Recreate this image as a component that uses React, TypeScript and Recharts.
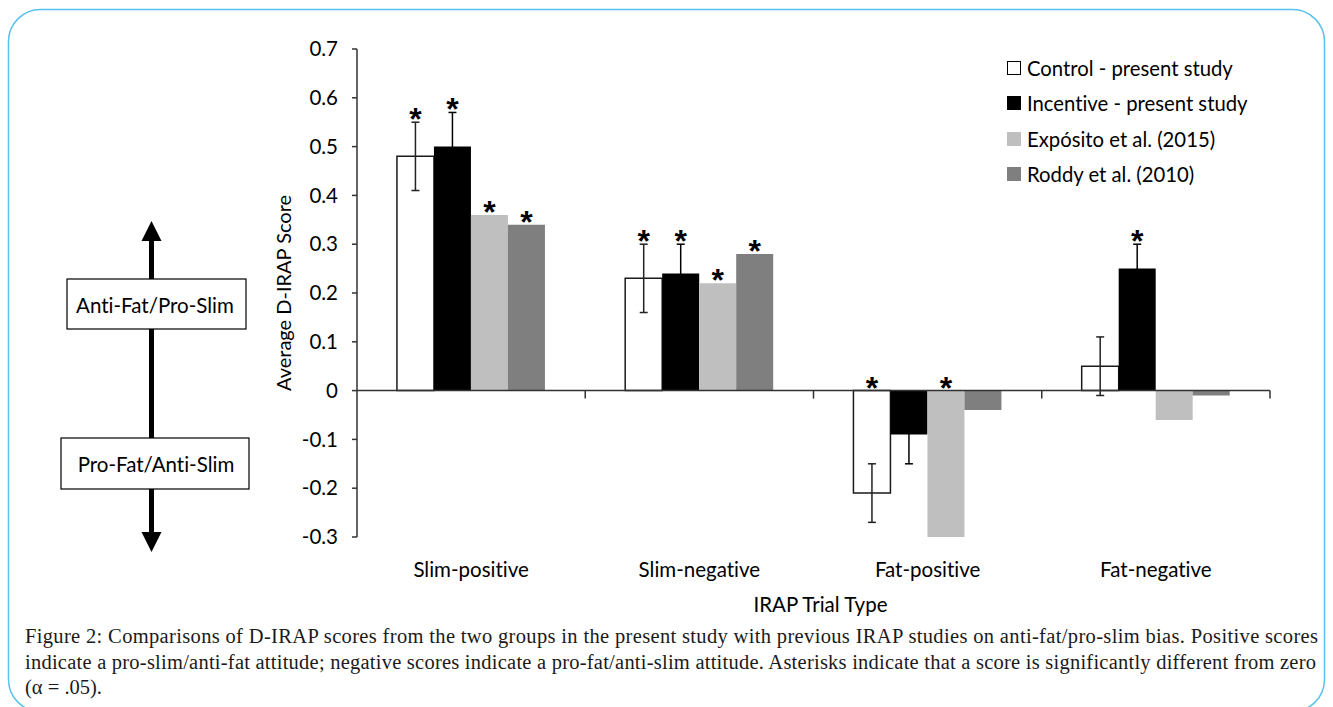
import React from 'react';
import { BarChart, Bar, XAxis, YAxis, ErrorBar, ReferenceLine, Legend, LabelList } from 'recharts';

const categories = ['Slim-positive', 'Slim-negative', 'Fat-positive', 'Fat-negative'];
const controlValues = [0.48, 0.23, -0.21, 0.05];
const controlErrors = [0.07, 0.07, 0.06, 0.06];
const incentiveValues = [0.5, 0.24, -0.09, 0.25];
const incentiveErrors = [0.07, 0.06, 0.06, 0.05];
const expositoValues = [0.36, 0.22, -0.3, -0.06];
const roddyValues = [0.34, 0.28, -0.04, -0.01];
const controlSig = [true, true, true, false];
const incentiveSig = [true, true, false, true];
const expositoSig = [true, true, true, false];
const roddySig = [true, true, false, false];
const yTicks = [-0.3, -0.2, -0.1, 0, 0.1, 0.2, 0.3, 0.4, 0.5, 0.6, 0.7];

const seriesNames = ['Control - present study', 'Incentive - present study', 'Expósito et al. (2015)', 'Roddy et al. (2010)'];

const captionLines = [
  'Figure 2: Comparisons of D-IRAP scores from the two groups in the present study with previous IRAP studies on anti-fat/pro-slim bias. Positive scores',
  'indicate a pro-slim/anti-fat attitude; negative scores indicate a pro-fat/anti-slim attitude. Asterisks indicate that a score is significantly different from zero',
  '(α = .05).',
];

const data = categories.map((c, i) => ({
  category: c,
  control: controlValues[i],
  controlErr: controlErrors[i],
  incentive: incentiveValues[i],
  incentiveErr: incentiveErrors[i],
  exposito: expositoValues[i],
  roddy: roddyValues[i],
}));

const SANS = 'Lato, "Open Sans", sans-serif';
const SERIF = '"Liberation Serif", "DejaVu Serif", serif';
const AXIS = '#333';
const NOLIG: React.CSSProperties = { fontVariantLigatures: 'none', fontFeatureSettings: '"liga" 0' };

const series = [
  { key: 'control', name: seriesNames[0], fill: '#ffffff', stroke: '#1a1a1a', errStroke: '#222', values: controlValues, errs: controlErrors, sig: controlSig, errKey: 'controlErr' },
  { key: 'incentive', name: seriesNames[1], fill: '#000000', stroke: 'none', errStroke: '#000', values: incentiveValues, errs: incentiveErrors, sig: incentiveSig, errKey: 'incentiveErr' },
  { key: 'exposito', name: seriesNames[2], fill: '#bfbfbf', stroke: 'none', errStroke: '#000', values: expositoValues, errs: null as number[] | null, sig: expositoSig, errKey: '' },
  { key: 'roddy', name: seriesNames[3], fill: '#7f7f7f', stroke: 'none', errStroke: '#000', values: roddyValues, errs: null as number[] | null, sig: roddySig, errKey: '' },
];

const makeAsterisk = (values: number[], sig: boolean[], errs: number[] | null) => (props: any) => {
  const vb = props.viewBox && props.viewBox.width !== undefined ? props.viewBox : props;
  const index = props.index;
  if (index === undefined || !sig[index]) return null;
  const x = Number(vb.x);
  const y = Number(vb.y);
  const w = Number(vb.width);
  const h = Number(vb.height);
  const v = values[index];
  const top = Math.min(y, y + h);
  const ppu = Math.abs(h / v);
  const zeroY = v >= 0 ? top + Math.abs(h) : top;
  const err = errs ? errs[index] : 0;
  const peak = Math.max(0, v + err);
  const cy = zeroY - peak * ppu - 10;
  return (
    <text x={x + w / 2} y={cy + 18} textAnchor="middle" fontSize={32} fontWeight="bold" fontFamily='"Liberation Sans", Arial, sans-serif' fill="#000">
      *
    </text>
  );
};

const ZeroLine = (props: any) => {
  const { x1, x2, y1 } = props;
  const n = categories.length;
  const step = (x2 - x1) / n;
  return (
    <g>
      <line x1={x1} x2={x2} y1={y1} y2={y1} stroke={AXIS} strokeWidth={1.5} />
      {categories.map((_, i) => (
        <line key={i} x1={x1 + step * (i + 1)} x2={x1 + step * (i + 1)} y1={y1} y2={y1 + 8} stroke={AXIS} strokeWidth={1.5} />
      ))}
    </g>
  );
};

const LegendContent = () => (
  <div style={{ width: 0, height: 0, position: 'relative' }}>
    <div style={{ position: 'absolute', left: 0, top: 0, width: 300, fontFamily: SANS, fontSize: 20.3, color: '#000', ...NOLIG }}>
      {series.map((s) => (
        <div key={s.key} style={{ display: 'flex', alignItems: 'center', height: 35.5, whiteSpace: 'nowrap' }}>
          <div
            style={{
              width: s.key === 'control' ? 12 : 14,
              height: s.key === 'control' ? 12 : 14,
              background: s.fill,
              border: s.key === 'control' ? '1px solid #000' : 'none',
              marginRight: 6,
            }}
          />
          <span>{s.name}</span>
        </div>
      ))}
    </div>
  </div>
);

const YLabel = (props: any) => {
  const vb = props.viewBox;
  const cx = vb.x + 16;
  const cy = vb.y + vb.height / 2;
  return (
    <text x={cx} y={cy} transform={`rotate(-90, ${cx}, ${cy})`} textAnchor="middle" dominantBaseline="central" fontFamily={SANS} fontSize={20} fill="#000" style={NOLIG}>
      Average D-IRAP Score
    </text>
  );
};

const Decorations = () => (
  <svg width={1333} height={707} style={{ position: 'absolute', left: 0, top: 0 }}>
    <rect x={8.5} y={9.5} width={1316} height={702} rx={32} ry={32} fill="none" stroke="#58c3ee" strokeWidth={1.5} />
    <line x1={151.5} x2={151.5} y1={236} y2={537} stroke="#000" strokeWidth={5} />
    <polygon points="151.5,221 141.5,241 161.5,241" fill="#000" />
    <polygon points="151.5,552 141.5,532 161.5,532" fill="#000" />
    <rect x={67} y={279} width={179} height={50} fill="#fff" stroke="#000" strokeWidth={1.2} />
    <text x={155} y={305} textAnchor="middle" dominantBaseline="central" fontFamily={SANS} fontSize={20.5} fill="#000" style={NOLIG}>
      Anti-Fat/Pro-Slim
    </text>
    <rect x={61} y={438} width={188} height={51} fill="#fff" stroke="#000" strokeWidth={1.2} />
    <text x={156} y={464} textAnchor="middle" dominantBaseline="central" fontFamily={SANS} fontSize={20.5} fill="#000" style={NOLIG}>
      Pro-Fat/Anti-Slim
    </text>
    <text x={25} y={643} fontFamily={SERIF} fontSize={20.5} fill="#1a1a1a" textLength={1293} lengthAdjust="spacing">
      {captionLines[0]}
    </text>
    <text x={25} y={669} fontFamily={SERIF} fontSize={20.5} fill="#1a1a1a" textLength={1291} lengthAdjust="spacing">
      {captionLines[1]}
    </text>
    <text x={25} y={694} fontFamily={SERIF} fontSize={20.5} fill="#1a1a1a">
      {captionLines[2]}
    </text>
  </svg>
);

export default function App() {
  return (
    <div style={{ position: 'absolute', left: 0, top: 0, width: 1333, height: 707, background: '#fff', overflow: 'hidden' }}>
      <Decorations />
      <div style={{ position: 'absolute', left: 0, top: 0, ...NOLIG }}>
        <BarChart
          width={1333}
          height={707}
          data={data}
          margin={{ top: 49, right: 63, bottom: 90, left: 267 }}
          barCategoryGap="17.5%"
          barGap={0}
        >
          <XAxis
            dataKey="category"
            axisLine={false}
            tickLine={false}
            tickSize={0}
            tickMargin={25}
            height={80}
            interval={0}
            tick={{ fontSize: 20.5, fill: '#000', fontFamily: SANS }}
            label={{ value: 'IRAP Trial Type', position: 'insideBottom', offset: 5, dx: 7, fontSize: 20.5, fill: '#000', fontFamily: SANS }}
          />
          <YAxis
            width={90}
            domain={[-0.3, 0.7]}
            ticks={yTicks}
            interval={0}
            allowDataOverflow
            tickFormatter={(v: number) => (v === 0 ? '0' : v.toFixed(1))}
            tick={{ fontSize: 20.5, fill: '#000', fontFamily: SANS }}
            tickSize={5}
            tickMargin={14}
            axisLine={{ stroke: AXIS, strokeWidth: 1.5 }}
            tickLine={{ stroke: AXIS, strokeWidth: 1.5 }}
            label={<YLabel />}
          />
          {series.map((s) => (
            <Bar
              key={s.key}
              dataKey={s.key}
              name={s.name}
              fill={s.fill}
              stroke={s.stroke}
              strokeWidth={s.stroke === 'none' ? 0 : 1.5}
              isAnimationActive={false}
            >
              {s.errKey ? (
                <ErrorBar dataKey={s.errKey} width={4} stroke={s.errStroke} strokeWidth={1.5} direction="y" isAnimationActive={false} />
              ) : null}
              <LabelList dataKey={s.key} content={makeAsterisk(s.values, s.sig, s.errs)} />
            </Bar>
          ))}
          <ReferenceLine y={0} shape={<ZeroLine />} ifOverflow="extendDomain" />
          <Legend content={<LegendContent />} wrapperStyle={{ top: 50, left: 1007, width: 'auto' }} />
        </BarChart>
      </div>
    </div>
  );
}
